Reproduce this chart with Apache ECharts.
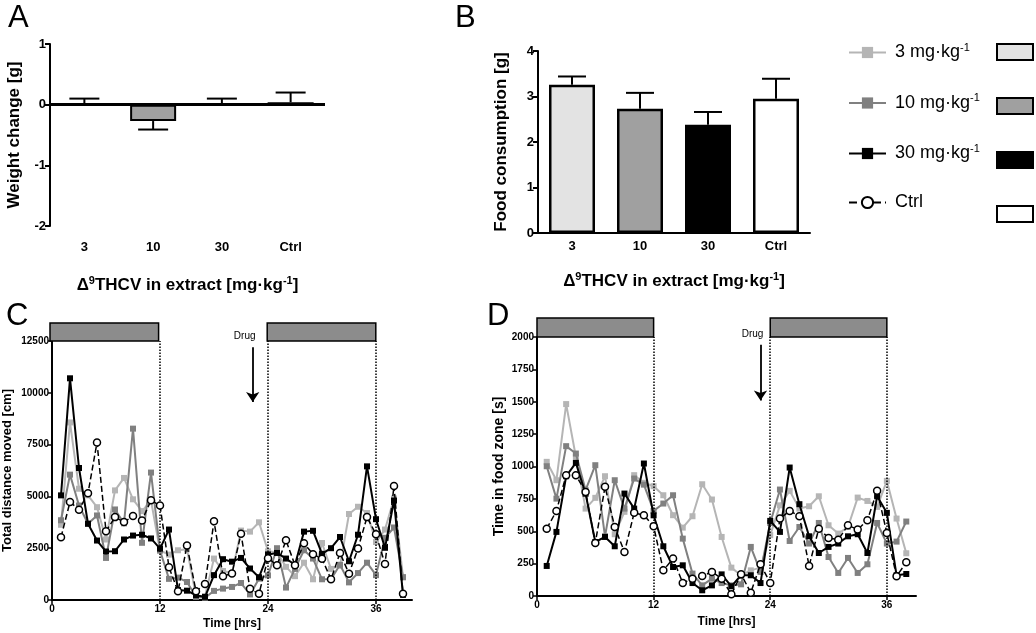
<!DOCTYPE html>
<html><head><meta charset="utf-8">
<script src="https://cdn.jsdelivr.net/npm/echarts@6/dist/echarts.min.js"></script>
<style>html,body{margin:0;padding:0;background:#fff}#c{width:1036px;height:633px}</style>
</head><body><div id="c"></div>
<script>
const F = "'Liberation Sans', Arial, sans-serif";

// ---------- Panels A & B ----------
const categories = ['3', '10', '30', 'Ctrl'];
const weightChange = [0.02, -0.27, 0.01, 0.04];
const weightErr = [0.08, 0.14, 0.09, 0.16];
const foodConsumption = [3.26, 2.73, 2.38, 2.95];
const foodErr = [0.18, 0.35, 0.28, 0.44];
const barFills = ['#e3e3e3', '#a0a0a0', '#000000', '#ffffff'];

// ---------- Panels C & D ----------
const legendNames = ['3 mg·kg-1', '10 mg·kg-1', '30 mg·kg-1', 'Ctrl'];
const lineColors = ['#b5b5b5', '#808080', '#000000', '#000000'];
const darkPeriods = [[0, 12], [24, 36]];
const hoursC = [1,2,3,4,5,6,7,8,9,10,11,12,13,14,15,16,17,18,19,20,21,22,23,24,25,26,27,28,29,30,31,32,33,34,35,36,37,38,39];
const distance3 = [3630,8570,5370,5050,4480,2920,5290,5890,4860,4290,4800,2390,2190,2400,2450,200,180,2000,1400,1300,3350,3300,3750,2350,2300,1600,1150,1800,1000,2750,1500,1650,4150,4500,4200,2800,3400,4900,1100];
const distance10 = [3850,6050,4560,3680,4080,2030,4370,3700,8270,2760,6150,2390,1020,1080,870,150,110,440,550,630,820,270,1030,1190,2500,600,1500,2400,2000,1000,1000,1700,850,1300,1800,1200,3000,3500,1100];
const distance30 = [5050,10700,6370,3680,2870,2340,2355,2920,3110,3150,2970,2480,3400,480,450,230,150,1200,1970,1850,2030,1520,1100,2200,2270,2000,1700,3300,3340,2230,2500,3040,1870,3150,6450,3900,2520,4800,250];
const distanceCtrl = [3030,4730,4360,5150,7600,3320,4000,3760,4050,3840,4810,4560,1580,420,2630,420,770,3800,1150,1280,3200,540,300,2020,1680,2880,1680,2740,2210,1990,1000,2270,1270,2480,4000,3170,1740,5500,300];

const hoursD = [1,2,3,4,5,6,7,8,9,10,11,12,13,14,15,16,17,18,19,20,21,22,23,24,25,26,27,28,29,30,31,32,33,34,35,36,37,38];
const food3 = [1036,894,1482,1075,675,758,925,477,650,933,874,848,778,624,528,616,863,745,456,219,160,198,219,470,700,812,675,693,770,546,482,533,760,734,688,889,598,330];
const food10 = [1002,752,1157,1100,817,1010,461,894,675,907,860,657,714,778,443,173,82,134,100,82,90,379,186,564,822,425,533,405,564,301,178,294,178,245,564,405,420,575];
const food30 = [232,495,925,1028,790,417,456,384,791,675,1023,623,384,224,237,100,44,82,167,75,160,160,100,580,495,992,709,461,332,379,405,461,477,332,770,642,160,170];
const foodCtrl = [520,657,933,933,804,410,843,533,340,642,624,539,198,289,100,134,155,186,134,13,167,26,245,100,598,657,616,232,520,448,435,546,513,585,812,487,152,260];

const seriesC = [distance3, distance10, distance30, distanceCtrl];
const seriesD = [food3, food10, food30, foodCtrl];

const pairs = (xs, ys) => ys.map((v, i) => [xs[i], v]);

const nameRich = (size) => ({
  d: {fontFamily: F, fontWeight: 'bold', fontSize: size, color: '#000'},
  s: {fontFamily: F, fontWeight: 'bold', fontSize: Math.round(size * 0.62), color: '#000', padding: [0, 0, Math.round(size * 0.6), 0]}
});
const extractName = '{d|Δ}{s|9}{d|THCV in extract [mg·kg}{s|-1}{d|]}';

function errRender(hw) {
  return function (params, api) {
    const i = api.value(0), v = api.value(1), e = api.value(2);
    const dir = v < 0 ? -1 : 1;
    const b = api.coord([i, v]);
    const t = api.coord([i, v + dir * e]);
    return {type: 'group', children: [
      {type: 'line', shape: {x1: b[0], y1: b[1], x2: t[0], y2: t[1]}, style: {stroke: '#000', lineWidth: 2}},
      {type: 'line', shape: {x1: t[0] - hw, y1: t[1], x2: t[0] + hw, y2: t[1]}, style: {stroke: '#000', lineWidth: 2}}
    ]};
  };
}
function periodRender(params, api) {
  const p0 = api.coord([api.value(0), 1]);
  const p1 = api.coord([api.value(1), 0]);
  return {type: 'rect', shape: {x: p0[0], y: p0[1], width: p1[0] - p0[0], height: p1[1] - p0[1]},
    style: {fill: '#8c8c8c', stroke: '#000', lineWidth: 1.5}};
}

const smallLab = {fontFamily: F, fontWeight: 'bold', fontSize: 10, color: '#000'};
const axLine = {show: true, lineStyle: {color: '#000', width: 2}};
const bigLab = {fontFamily: F, fontWeight: 'bold', fontSize: 13, color: '#000'};

const option = {
  animation: false,
  backgroundColor: '#fff',
  title: [
    {text: 'A', left: 3, top: -2, textStyle: {fontFamily: F, fontWeight: 'normal', fontSize: 31, color: '#000'}},
    {text: 'B', left: 450, top: -2, textStyle: {fontFamily: F, fontWeight: 'normal', fontSize: 31, color: '#000'}},
    {text: 'C', left: 1, top: 296, textStyle: {fontFamily: F, fontWeight: 'normal', fontSize: 31, color: '#000'}},
    {text: 'D', left: 482, top: 296, textStyle: {fontFamily: F, fontWeight: 'normal', fontSize: 31, color: '#000'}}
  ],
  legend: [
    {
      data: legendNames, orient: 'vertical', left: 843, top: 37, itemWidth: 37, itemHeight: 14, itemGap: 31,
      selectedMode: false,
      formatter: function (name) {
        if (name === 'Ctrl') return '{a|Ctrl}';
        return '{a|' + name.replace('-1', '') + '}{s|-1}';
      },
      textStyle: {fontFamily: F, fontSize: 18, color: '#000', padding: [0, 0, 0, 4],
        rich: {a: {fontFamily: F, fontSize: 18, color: '#000'}, s: {fontFamily: F, fontSize: 11, color: '#000', padding: [0, 0, 10, 0]}}}
    },
    {
      data: ['b3', 'b10', 'b30', 'bCtrl'], orient: 'vertical', left: 991, top: 38, itemWidth: 36, itemHeight: 16, itemGap: 36,
      selectedMode: false, icon: 'rect', formatter: function () { return ''; }, textStyle: {fontSize: 1}
    }
  ],
  grid: [
    {left: 50, top: 44, width: 275, height: 182},
    {left: 538, top: 51, width: 272, height: 182},
    {left: 50, top: 341, width: 362, height: 259},
    {left: 50, top: 323, width: 362, height: 18},
    {left: 537, top: 337, width: 379, height: 259},
    {left: 537, top: 318, width: 379, height: 19}
  ],
  xAxis: [
    {gridIndex: 0, type: 'category', data: categories, axisLine: {show: false, onZero: false}, axisTick: {show: false},
      axisLabel: Object.assign({margin: 15}, bigLab),
      name: extractName, nameLocation: 'middle', nameGap: 49, nameTextStyle: {rich: nameRich(17)}},
    {gridIndex: 1, type: 'category', data: categories, axisLine: axLine, axisTick: {show: false},
      axisLabel: Object.assign({margin: 7}, bigLab),
      name: extractName, nameLocation: 'middle', nameGap: 38, nameTextStyle: {rich: nameRich(17)}},
    {gridIndex: 2, type: 'value', min: 0, max: 40, interval: 12, splitLine: {show: false}, axisLine: axLine,
      axisTick: {length: 4, lineStyle: {width: 1.5}}, axisLabel: Object.assign({margin: 4, showMaxLabel: false}, smallLab),
      name: 'Time [hrs]', nameLocation: 'middle', nameGap: 18, nameTextStyle: {fontFamily: F, fontWeight: 'bold', fontSize: 12, color: '#000'}},
    {gridIndex: 3, type: 'value', min: 0, max: 40, show: false},
    {gridIndex: 4, type: 'value', min: 0, max: 39, interval: 12, splitLine: {show: false}, axisLine: axLine,
      axisTick: {length: 4, lineStyle: {width: 1.5}}, axisLabel: Object.assign({margin: 4, showMaxLabel: false}, smallLab),
      name: 'Time [hrs]', nameLocation: 'middle', nameGap: 20, nameTextStyle: {fontFamily: F, fontWeight: 'bold', fontSize: 12, color: '#000'}},
    {gridIndex: 5, type: 'value', min: 0, max: 39, show: false}
  ],
  yAxis: [
    {gridIndex: 0, type: 'value', min: -2, max: 1, interval: 1, splitLine: {show: false}, axisLine: axLine,
      axisTick: {show: true, length: 5, lineStyle: {width: 2}},
      axisLabel: Object.assign({margin: 4}, bigLab),
      name: 'Weight change [g]', nameLocation: 'middle', nameGap: 27,
      nameTextStyle: {fontFamily: F, fontWeight: 'bold', fontSize: 17, color: '#000'}},
    {gridIndex: 1, type: 'value', min: 0, max: 4, interval: 1, splitLine: {show: false}, axisLine: axLine,
      axisTick: {show: true, length: 5, lineStyle: {width: 2}},
      axisLabel: Object.assign({margin: 4}, bigLab),
      name: 'Food consumption [g]', nameLocation: 'middle', nameGap: 28,
      nameTextStyle: {fontFamily: F, fontWeight: 'bold', fontSize: 17, color: '#000'}},
    {gridIndex: 2, type: 'value', min: 0, max: 12500, interval: 2500, splitLine: {show: false}, axisLine: axLine,
      axisTick: {show: true, length: 4, lineStyle: {width: 1.5}},
      axisLabel: Object.assign({margin: 3, formatter: v => String(v)}, smallLab),
      name: 'Total distance moved [cm]', nameLocation: 'middle', nameGap: 38,
      nameTextStyle: {fontFamily: F, fontWeight: 'bold', fontSize: 13, color: '#000'}},
    {gridIndex: 3, type: 'value', min: 0, max: 1, show: false},
    {gridIndex: 4, type: 'value', min: 0, max: 2000, interval: 250, splitLine: {show: false}, axisLine: axLine,
      axisTick: {show: true, length: 4, lineStyle: {width: 1.5}},
      axisLabel: Object.assign({margin: 3, formatter: v => String(v)}, smallLab),
      name: 'Time in food zone [s]', nameLocation: 'middle', nameGap: 31,
      nameTextStyle: {fontFamily: F, fontWeight: 'bold', fontSize: 14, color: '#000'}},
    {gridIndex: 5, type: 'value', min: 0, max: 1, show: false}
  ],
  series: []
};

// Panel A bars
option.series.push({
  type: 'bar', xAxisIndex: 0, yAxisIndex: 0, barWidth: 46,
  data: weightChange.map((v, i) => ({value: v, itemStyle: {color: barFills[i]}})),
  itemStyle: {borderColor: '#000', borderWidth: 2},
  markLine: {silent: true, symbol: 'none', label: {show: false}, lineStyle: {color: '#000', width: 3, type: 'solid'}, data: [{yAxis: 0}]}
});
option.series.push({
  type: 'custom', xAxisIndex: 0, yAxisIndex: 0, renderItem: errRender(15), z: 5,
  data: categories.map((c, i) => [i, weightChange[i], weightErr[i]]), encode: {x: 0, y: 1}
});
// Panel B bars (one series per group for the swatch legend)
['b3', 'b10', 'b30', 'bCtrl'].forEach(function (nm, k) {
  option.series.push({
    name: nm, type: 'bar', xAxisIndex: 1, yAxisIndex: 1, barWidth: 46, barGap: '-100%',
    data: foodConsumption.map((v, i) => (i === k ? v : '-')),
    itemStyle: {color: barFills[k], borderColor: '#000', borderWidth: 2.5}
  });
});
option.series.push({
  type: 'custom', xAxisIndex: 1, yAxisIndex: 1, renderItem: errRender(14), z: 5,
  data: categories.map((c, i) => [i, foodConsumption[i], foodErr[i]]), encode: {x: 0, y: 1}
});

// Light/dark period bars
option.series.push({type: 'custom', xAxisIndex: 3, yAxisIndex: 3, renderItem: periodRender, data: darkPeriods, encode: {x: [0, 1]}});
option.series.push({type: 'custom', xAxisIndex: 5, yAxisIndex: 5, renderItem: periodRender, data: darkPeriods, encode: {x: [0, 1]}});

function lineSeries(k, xs, ys, xi, yi, extra) {
  const isCtrl = k === 3;
  const s = {
    name: legendNames[k], type: 'line', xAxisIndex: xi, yAxisIndex: yi,
    data: pairs(xs, ys),
    symbol: isCtrl ? 'circle' : 'rect', symbolSize: isCtrl ? 7 : 6, showAllSymbol: true,
    itemStyle: isCtrl ? {color: '#fff', borderColor: '#000', borderWidth: 1.5} : {color: lineColors[k]},
    lineStyle: {color: lineColors[k], width: isCtrl ? 1.5 : 2, type: isCtrl ? 'dashed' : 'solid'},
    z: 3 + k
  };
  return Object.assign(s, extra || {});
}
const dotted = {silent: true, symbol: 'none', label: {show: false},
  lineStyle: {color: '#000', width: 1.5, type: 'dotted'}, data: [{xAxis: 12}, {xAxis: 24}, {xAxis: 36}]};
function drugLine(x, y0, y1) {
  return {silent: true, symbol: ['none', 'arrow'], symbolSize: 10,
    lineStyle: {color: '#000', width: 1.8, type: 'solid'},
    label: {show: true, position: 'start', formatter: 'Drug', distance: 6, offset: [-8, 0], fontFamily: F, fontSize: 10, color: '#000'},
    data: [[{coord: [x, y0], symbol: 'none'}, {coord: [x, y1], symbol: 'arrow', symbolSize: 10}]]};
}
seriesC.forEach(function (ys, k) {
  const extra = k === 0 ? {markLine: dotted} : (k === 2 ? {markLine: drugLine(22.3, 12200, 9550)} : {});
  option.series.push(lineSeries(k, hoursC, ys, 2, 2, extra));
});
seriesD.forEach(function (ys, k) {
  const extra = k === 0 ? {markLine: dotted} : (k === 2 ? {markLine: drugLine(23, 1940, 1510)} : {});
  option.series.push(lineSeries(k, hoursD, ys, 4, 4, extra));
});

const chart = echarts.init(document.getElementById('c'), null, {renderer: 'canvas'});
chart.setOption(option);
</script></body></html>
